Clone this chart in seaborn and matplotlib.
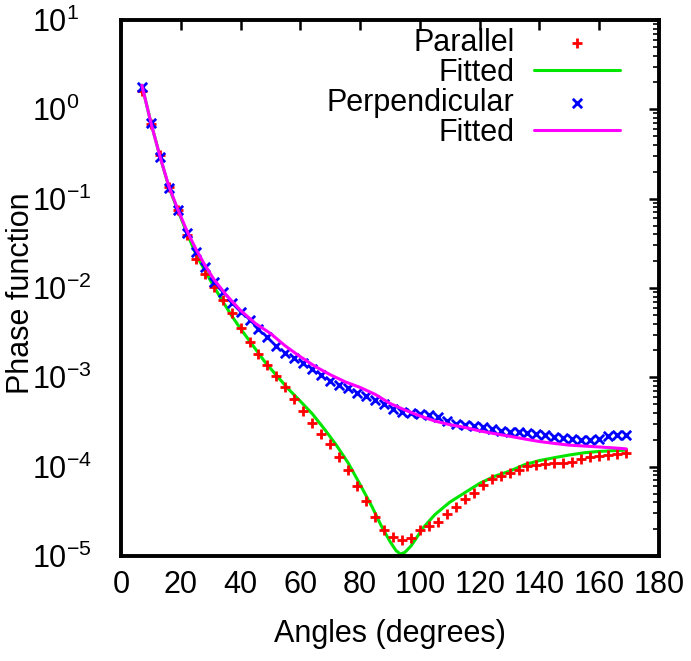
import matplotlib
matplotlib.use("Agg")
import matplotlib.pyplot as plt
import seaborn as sns
import numpy as np
from matplotlib.ticker import LogLocator, MultipleLocator, NullFormatter

# measured angles (degrees)
angles = [7, 10, 13, 16, 19, 22, 25, 28, 31, 34, 37, 40, 43, 46, 49, 52, 55, 58,
          61, 64, 67, 70, 73, 76, 79, 82, 85, 88, 91, 94, 97, 100, 103, 106, 109,
          112, 115, 118, 121, 124, 127, 130, 133, 136, 139, 142, 145, 148, 151,
          154, 157, 160, 163, 166, 169]

parallel = [1.60, 0.69, 0.31, 0.135, 0.074, 0.039, 0.021, 0.0144, 0.0102, 0.0074,
            0.0052, 0.0036, 0.0025, 0.0018, 0.00137, 0.00104, 7.7e-4, 5.7e-4,
            4.2e-4, 3.1e-4, 2.3e-4, 1.8e-4, 1.28e-4, 9.1e-5, 6.1e-5, 4.1e-5,
            2.7e-5, 1.94e-5, 1.62e-5, 1.50e-5, 1.58e-5, 1.95e-5, 2.16e-5, 2.42e-5,
            2.95e-5, 3.53e-5, 4.3e-5, 5.1e-5, 6.2e-5, 7.2e-5, 7.85e-5, 8.55e-5,
            9.2e-5, 1.02e-4, 1.03e-4, 1.07e-4, 1.09e-4, 1.11e-4, 1.14e-4, 1.21e-4,
            1.27e-4, 1.32e-4, 1.35e-4, 1.39e-4, 1.43e-4]

perpendicular = [1.79, 0.70, 0.295, 0.133, 0.0746, 0.0416, 0.0255, 0.0171, 0.0117,
                 0.0091, 0.0068, 0.0054, 0.0044, 0.00344, 0.0028, 0.00226, 0.00189,
                 0.00163, 0.00144, 0.00123, 0.00106, 9.2e-4, 8.2e-4, 7.5e-4, 6.6e-4,
                 6.1e-4, 5.5e-4, 5.0e-4, 4.47e-4, 4.07e-4, 3.95e-4, 3.88e-4, 3.78e-4,
                 3.62e-4, 3.27e-4, 3.0e-4, 2.92e-4, 2.85e-4, 2.80e-4, 2.62e-4, 2.52e-4,
                 2.46e-4, 2.46e-4, 2.40e-4, 2.34e-4, 2.24e-4, 2.16e-4, 2.09e-4, 2.02e-4,
                 2.00e-4, 2.00e-4, 2.04e-4, 2.18e-4, 2.24e-4, 2.26e-4]

# fitted curves
fit_par_angles = [7, 10, 13, 16, 19, 22, 25, 28, 31, 34, 37, 40, 44, 48, 52, 56, 60,
                  64, 68, 72, 76, 80, 84, 87, 90, 92, 93.5, 95, 97, 99, 101, 105, 110,
                  115, 120, 125, 130, 135, 140, 145, 150, 155, 160, 165, 169]
fit_par = [1.86, 0.71, 0.30, 0.135, 0.074, 0.042, 0.024, 0.0158, 0.0105, 0.0071,
           0.0049, 0.0035, 0.0023, 0.00151, 0.00105, 7.4e-4, 5.4e-4, 3.9e-4, 2.65e-4,
           1.75e-4, 1.10e-4, 6.3e-5, 3.55e-5, 2.2e-5, 1.45e-5, 1.15e-5, 1.05e-5,
           1.10e-5, 1.29e-5, 1.62e-5, 2.05e-5, 2.9e-5, 4.0e-5, 5.1e-5, 6.5e-5, 7.8e-5,
           8.9e-5, 1.05e-4, 1.17e-4, 1.26e-4, 1.35e-4, 1.43e-4, 1.48e-4, 1.51e-4, 1.53e-4]

fit_perp_angles = [7, 10, 13, 16, 19, 22, 25, 28, 31, 35, 40, 45, 50, 55, 60, 65, 70,
                   75, 80, 85, 90, 95, 100, 105, 110, 115, 120, 125, 130, 135, 140,
                   145, 150, 155, 160, 165, 169]
fit_perp = [1.86, 0.71, 0.30, 0.138, 0.076, 0.044, 0.0275, 0.0182, 0.0126, 0.0085,
            0.0056, 0.0040, 0.0031, 0.00224, 0.0017, 0.00132, 0.00107, 8.9e-4, 7.7e-4,
            6.45e-4, 5.1e-4, 4.3e-4, 3.7e-4, 3.24e-4, 2.95e-4, 2.75e-4, 2.51e-4,
            2.34e-4, 2.19e-4, 2.04e-4, 1.91e-4, 1.82e-4, 1.74e-4, 1.70e-4, 1.66e-4,
            1.62e-4, 1.58e-4]

y_ticks = [1e-5, 1e-4, 1e-3, 1e-2, 1e-1, 1, 10]
x_ticks = [0, 20, 40, 60, 80, 100, 120, 140, 160, 180]

sns.set_theme(style="white")
plt.rcParams['font.family'] = ['Liberation Sans', 'DejaVu Sans']
plt.rcParams['mathtext.fontset'] = 'custom'
plt.rcParams['mathtext.rm'] = 'Liberation Sans'

FS = 22

fig = plt.figure(figsize=(6.91, 6.61), dpi=100)
ax = fig.add_axes([0.1751, 0.1589, 0.7786, 0.8109])

sns.scatterplot(x=angles, y=parallel, marker='+', color='#ff0000', s=50,
                linewidth=2.0, label='Parallel', ax=ax, zorder=3)
sns.lineplot(x=fit_par_angles, y=fit_par, color='#00e600', linewidth=2.2,
             label='Fitted', ax=ax, zorder=2)
sns.scatterplot(x=angles, y=perpendicular, marker='x', color='#0000ff', s=45,
                linewidth=2.0, label='Perpendicular', ax=ax, zorder=3)
sns.lineplot(x=fit_perp_angles, y=fit_perp, color='#ff00ff', linewidth=2.2,
             label='Fitted', ax=ax, zorder=4)

ax.set_yscale('log')
ax.set_xlim(0, 180)
ax.set_ylim(1e-5, 10)
ax.set_xticks(x_ticks)
ax.set_yticks(y_ticks)
ax.yaxis.set_minor_locator(LogLocator(base=10, subs=np.arange(2, 10), numticks=10))
ax.yaxis.set_minor_formatter(NullFormatter())

ax.tick_params(which='major', direction='in', length=7, width=1.8,
               top=True, right=True, labelsize=FS, colors='black')
# gnuplot-style: y tick labels start at the same x
ax.tick_params(axis='y', which='major', pad=64)
ax.tick_params(axis='x', which='major', pad=10)
ax.tick_params(which='minor', direction='in', length=4, width=1.4,
               top=True, right=True)
for lbl in ax.get_yticklabels():
    lbl.set_ha('left')
for sp in ax.spines.values():
    sp.set_linewidth(2.8)
    sp.set_color('black')

ax.set_xlabel('Angles (degrees)', fontsize=FS, color='black')
ax.set_ylabel('Phase function', fontsize=FS, color='black')
ax.xaxis.set_label_coords(0.5, -0.118)
ax.yaxis.set_label_coords(-0.158, 0.49)

leg = ax.legend(loc='upper right', frameon=False, markerfirst=False, fontsize=FS,
                handlelength=2.8, handletextpad=0.65, labelspacing=0.0,
                borderpad=0.0, borderaxespad=0.0, bbox_to_anchor=(0.9275, 0.985))
for t in leg.get_texts():
    t.set_color('black')

fig.savefig('out.png', dpi=100)
